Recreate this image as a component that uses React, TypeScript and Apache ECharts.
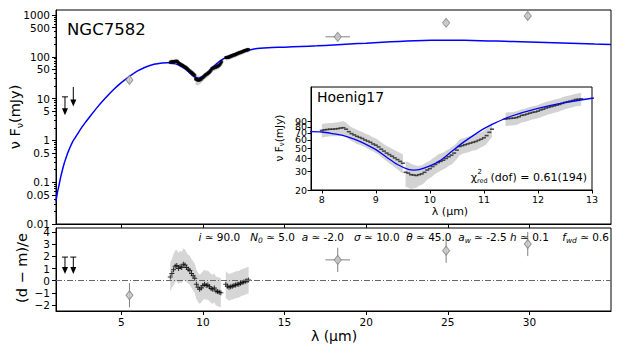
import React, { useEffect, useRef } from 'react';
import * as echarts from 'echarts';

const FONT = 'DejaVu Sans';

// ---- model SED (blue line) ----
const modelWave = [1.0, 1.1, 1.2, 1.3, 1.4, 1.5, 1.6, 1.7, 1.8, 2.0, 2.2, 2.4, 2.6, 2.8, 3.0, 3.5, 4.0, 4.5, 5.0, 5.5, 6.0, 6.5, 7.0, 7.5, 7.8, 8.0, 8.2, 8.4, 8.6, 8.8, 9.0, 9.2, 9.4, 9.6, 9.7, 9.8, 10.0, 10.2, 10.4, 10.6, 10.8, 11.0, 11.2, 11.5, 12.0, 12.5, 13.0, 13.5, 14, 15, 16, 17, 18, 19, 20, 21, 22, 23, 24, 25, 26, 27, 28, 29, 30, 31, 32, 33, 34, 35];
const modelFlux = [0.035, 0.06, 0.09, 0.14, 0.2, 0.28, 0.37, 0.48, 0.6, 0.9, 1.2, 1.6, 2.1, 2.7, 3.4, 6.0, 10, 16, 24, 34, 46, 57, 66, 71, 72, 71.5, 69, 66, 61, 55, 48.5, 41, 35, 31.5, 31, 31.3, 34, 38.5, 46.5, 56, 66, 77, 87, 101, 120, 136, 150, 160, 165, 170, 176, 183, 192, 202, 212, 223, 233, 242, 248, 250, 248, 243, 237, 231, 225, 219, 213, 207, 201, 198];

// ---- mid-IR spectrum (Hoenig17) ----
const specWave = [
  8.00, 8.05, 8.10, 8.15, 8.20, 8.25, 8.30, 8.35, 8.40, 8.45, 8.50, 8.55, 8.60, 8.65, 8.70, 8.75, 8.80, 8.85, 8.90, 8.95, 9.00, 9.05, 9.10, 9.15, 9.20, 9.25, 9.30, 9.35, 9.40, 9.45, 9.50,
  9.55, 9.60, 9.65, 9.70, 9.75, 9.80, 9.85, 9.90, 9.95, 10.00, 10.05, 10.10, 10.15, 10.20, 10.25, 10.30, 10.35, 10.40, 10.45, 10.50, 10.55, 10.60, 10.65, 10.70, 10.75, 10.80, 10.85, 10.90, 10.95, 11.00, 11.05, 11.10, 11.15,
  11.40, 11.45, 11.50, 11.55, 11.60, 11.65, 11.70, 11.75, 11.80, 11.85, 11.90, 11.95, 12.00, 12.05, 12.10, 12.15, 12.20, 12.25, 12.30, 12.35, 12.40, 12.45, 12.50, 12.55, 12.60, 12.65, 12.70, 12.75, 12.80,
];
const specFlux = [
  74, 75, 75.5, 76, 76, 76.5, 77, 78, 78.5, 76, 72, 69, 67, 65, 63.5, 62, 60, 58.5, 57, 55, 53.5, 51.5, 49, 47, 45, 43.5, 42, 40.5, 39, 37.5, 36,
  29.5, 29, 28, 27.8, 27.5, 28, 28.5, 29.5, 31, 32, 33.5, 35, 36.5, 37.5, 38.5, 40, 41.5, 43, 45, 48, 52, 53, 54, 55, 56, 57, 58, 59.5, 61, 63, 66, 71, 76,
  95, 96, 96.5, 97, 98, 100, 103, 104, 106, 108, 110, 111, 113, 116, 118, 121, 123, 125, 127, 129, 131, 134, 137, 139, 141, 143, 146, 147, 148,
];
const specErr = [
  11, 11, 11, 11, 11, 11.5, 11.5, 12, 12, 11.5, 11, 10.5, 10, 10, 9.5, 9.5, 9, 9, 9, 8.5, 8.5, 8, 8, 7.5, 7.5, 7.5, 7.5, 7.5, 7.5, 7.5, 7.5,
  8, 8, 7.5, 7, 6.5, 6, 6, 6, 6, 6, 6.5, 6.5, 7, 7, 7, 7.5, 7.5, 8, 8, 8.5, 9, 9, 9, 9.5, 9.5, 9.5, 10, 10, 10, 10.5, 11, 11.5, 12,
  14, 14, 14, 14, 14.5, 14.5, 15, 15, 15.5, 15.5, 16, 16, 16.5, 17, 17, 17.5, 17.5, 18, 18, 18.5, 18.5, 19, 19, 19.5, 19.5, 20, 20, 20.5, 20.5,
];
const specGapAfter = [9.5, 11.15];

// ---- photometry ----
const photWave = [5.5, 18.26, 24.9, 29.9];
const photWaveErr = [0, 0.75, 0, 0];
const photFlux = [28, 300, 650, 950];
const photFluxErr = [4, 40, 120, 180];
const photResid = [-1.2, 1.72, 2.48, 3.03];
const photResidErr = [1, 1, 1, 1];

// ---- upper limits ----
const ulWave = [1.55, 2.06];
const ulTop = [11, 19];
const ulBottom = [4, 6.5];
const ulCap = [1, 0];
const ulResidTop = [1.95, 1.95];
const ulResidBottom = [0.55, 0.55];

// ---- residuals of spectrum ----
const residWave = [8.0, 8.1, 8.2, 8.3, 8.4, 8.5, 8.6, 8.7, 8.8, 8.9, 9.0, 9.1, 9.2, 9.3, 9.4, 9.5, 9.6, 9.7, 9.8, 9.9, 10.0, 10.1, 10.2, 10.3, 10.4, 10.5, 10.6, 10.7, 10.8, 10.9, 11.0, 11.1, 11.4, 11.5, 11.6, 11.7, 11.8, 11.9, 12.0, 12.1, 12.2, 12.3, 12.4, 12.5, 12.6, 12.7, 12.8];
const residVal = [0.3, 0.6, 0.9, 1.2, 1.25, 1.0, 1.15, 1.1, 1.35, 1.3, 1.1, 0.95, 0.85, 0.6, 0.4, 0.2, -0.3, -0.55, -0.7, -0.6, -0.4, -0.3, -0.4, -0.35, -0.5, -0.65, -0.7, -0.6, -0.85, -0.9, -0.95, -1.0, -0.3, -0.45, -0.55, -0.5, -0.45, -0.4, -0.35, -0.3, -0.3, -0.2, -0.15, -0.1, -0.05, 0.0, 0.05];
const residErr = [1.2, 1.2, 1.3, 1.3, 1.3, 1.3, 1.3, 1.3, 1.3, 1.3, 1.2, 1.2, 1.2, 1.2, 1.2, 1.2, 1.2, 1.2, 1.2, 1.2, 1.2, 1.2, 1.2, 1.2, 1.2, 1.2, 1.2, 1.2, 1.2, 1.2, 1.2, 1.2, 1.1, 1.1, 1.1, 1.1, 1.1, 1.1, 1.1, 1.1, 1.1, 1.1, 1.1, 1.1, 1.1, 1.1, 1.1];

// ---- ticks ----
const xTicks = [5, 10, 15, 20, 25, 30];
const insetXTicks = [8, 9, 10, 11, 12, 13];
const yMainTicks = [0.01, 0.05, 0.1, 0.5, 1, 5, 10, 50, 100, 500, 1000];
const yMainMinor = [0.02, 0.03, 0.04, 0.06, 0.07, 0.08, 0.09, 0.2, 0.3, 0.4, 0.6, 0.7, 0.8, 0.9, 2, 3, 4, 6, 7, 8, 9, 20, 30, 40, 60, 70, 80, 90, 200, 300, 400, 600, 700, 800, 900];
const yResidTicks = [-2, -1, 0, 1, 2, 3, 4];
const yInsetTicks = [20, 30, 40, 50, 60, 70, 80, 90, 100];

// ---- fit parameters (text) ----
const paramNames = ['i', 'N|0', 'a', '\u03c3', '\u03b8', 'a|w', 'h', 'f|wd'];
const paramValues = ['90.0', '5.0', '-2.0', '10.0', '45.0', '-2.5', '0.1', '0.6'];
const paramGaps = ['   ', '  ', '   ', '  ', '  ', ' ', '    ', ''];

function segmentsBy(w: number[], breakAfter: number[], gap: number): [number, number][] {
  const out: [number, number][] = [];
  let s = 0;
  for (let i = 1; i < w.length; i++) {
    if (w[i] - w[i - 1] > gap || breakAfter.some((b) => Math.abs(b - w[i - 1]) < 1e-9)) {
      out.push([s, i - 1]);
      s = i;
    }
  }
  out.push([s, w.length - 1]);
  return out;
}

function bandSeries(xi: number, yi: number, w: number[], lo: number[], hi: number[], segs: [number, number][], color: string) {
  return {
    type: 'custom',
    xAxisIndex: xi,
    yAxisIndex: yi,
    z: 1,
    silent: true,
    clip: true,
    data: segs.map(([a]) => [w[a], (lo[a] + hi[a]) / 2]),
    renderItem: (params: any, api: any) => {
      const [a, b] = segs[params.dataIndex];
      const top: number[][] = [];
      const bot: number[][] = [];
      for (let k = a; k <= b; k++) {
        top.push(api.coord([w[k], hi[k]]));
        bot.unshift(api.coord([w[k], lo[k]]));
      }
      return { type: 'polygon', shape: { points: top.concat(bot) }, style: { fill: color } };
    },
  };
}

function errorBarSeries(xi: number, yi: number, data: number[][]) {
  return {
    type: 'custom',
    xAxisIndex: xi,
    yAxisIndex: yi,
    z: 3,
    silent: true,
    data,
    renderItem: (params: any, api: any) => {
      const x = api.value(0), y = api.value(1), xe = api.value(2), ylo = api.value(3), yhi = api.value(4);
      const a = api.coord([x, ylo]);
      const b = api.coord([x, yhi]);
      const children: any[] = [
        { type: 'line', shape: { x1: a[0], y1: a[1], x2: b[0], y2: b[1] }, style: { stroke: '#808080', lineWidth: 1 } },
      ];
      if (xe > 0) {
        const l = api.coord([x - xe, y]);
        const r = api.coord([x + xe, y]);
        children.push({ type: 'line', shape: { x1: l[0], y1: l[1], x2: r[0], y2: r[1] }, style: { stroke: '#808080', lineWidth: 1 } });
      }
      return { type: 'group', children };
    },
  };
}

function arrowSeries(xi: number, yi: number, data: number[][]) {
  return {
    type: 'custom',
    xAxisIndex: xi,
    yAxisIndex: yi,
    z: 4,
    silent: true,
    data,
    renderItem: (params: any, api: any) => {
      const x = api.value(0), t = api.value(1), b = api.value(2), cap = api.value(3);
      const p1 = api.coord([x, t]);
      const p2 = api.coord([x, b]);
      const children: any[] = [
        { type: 'line', shape: { x1: p1[0], y1: p1[1], x2: p2[0], y2: p2[1] - 4 }, style: { stroke: '#000', lineWidth: 1 } },
        { type: 'polygon', shape: { points: [[p2[0] - 3, p2[1] - 7], [p2[0] + 3, p2[1] - 7], [p2[0], p2[1]]] }, style: { fill: '#000' } },
      ];
      if (cap) {
        children.push({ type: 'line', shape: { x1: p1[0] - 3, y1: p1[1], x2: p1[0] + 3, y2: p1[1] }, style: { stroke: '#000', lineWidth: 1 } });
      }
      return { type: 'group', children };
    },
  };
}

const fmtNum = (v: number) => String(+Number(v).toPrecision(4));
const fmtResid = (v: number) => (v < 0 ? '\u2212' + Math.abs(v) : String(v));

const axisLineBlack = { show: true, onZero: false, lineStyle: { color: '#000', width: 1 } };

function buildOption() {
  const specLo = specFlux.map((f, i) => f - specErr[i]);
  const specHi = specFlux.map((f, i) => f + specErr[i]);
  const specSegs = segmentsBy(specWave, specGapAfter, 0.12);
  const residLo = residVal.map((v, i) => v - residErr[i]);
  const residHi = residVal.map((v, i) => v + residErr[i]);
  const residSegs = segmentsBy(residWave, [], 0.15);

  const modelData = modelWave.map((w, i) => [w, modelFlux[i]]);
  const specData = specWave.map((w, i) => [w, specFlux[i]]);
  const photData = photWave.map((w, i) => [w, photFlux[i]]);
  const photErrData = photWave.map((w, i) => [w, photFlux[i], photWaveErr[i], photFlux[i] - photFluxErr[i], photFlux[i] + photFluxErr[i]]);
  const photResidData = photWave.map((w, i) => [w, photResid[i]]);
  const photResidErrData = photWave.map((w, i) => [w, photResid[i], photWaveErr[i], photResid[i] - photResidErr[i], photResid[i] + photResidErr[i]]);
  const ulData = ulWave.map((w, i) => [w, ulTop[i], ulBottom[i], ulCap[i]]);
  const ulResidData = ulWave.map((w, i) => [w, ulResidTop[i], ulResidBottom[i], 1]);
  const residData = residWave.map((w, i) => [w, residVal[i]]);

  const tickStyle = { lineStyle: { color: '#000', width: 1 } };
  const labelBase = { color: '#000', fontFamily: FONT, hideOverlap: false };

  const paramText = paramNames
    .map((n, k) => {
      const [base, sub] = n.split('|');
      return `{i|${base}}` + (sub ? `{s|${sub}}` : '') + `{n| \u2243 ${paramValues[k]}${paramGaps[k]}}`;
    })
    .join('');
  const paramRich = {
    n: { fontSize: 10.5, fontFamily: FONT, fill: '#000', lineHeight: 14, verticalAlign: 'middle' },
    i: { fontSize: 10.5, fontFamily: FONT, fontStyle: 'italic', fill: '#000', lineHeight: 14, verticalAlign: 'middle' },
    s: { fontSize: 7.5, fontFamily: FONT, fontStyle: 'italic', fill: '#000', lineHeight: 14, verticalAlign: 'bottom' },
  };

  return {
    animation: false,
    backgroundColor: '#fff',
    textStyle: { fontFamily: FONT },
    grid: [
      { left: 56, top: 10, width: 555, height: 214, show: true, borderColor: '#000', borderWidth: 1, backgroundColor: 'transparent', outerBoundsMode: 'none', containLabel: false },
      { left: 56, top: 228, width: 555, height: 83, show: true, borderColor: '#000', borderWidth: 1, backgroundColor: 'transparent', outerBoundsMode: 'none', containLabel: false },
      { left: 311, top: 87, width: 281, height: 103, show: true, borderColor: '#000', borderWidth: 1, backgroundColor: '#fff', outerBoundsMode: 'none', containLabel: false, z: 5 },
    ],
    xAxis: [
      {
        gridIndex: 0, type: 'value', min: 1, max: 35,
        axisLine: axisLineBlack,
        axisTick: { show: true, customValues: xTicks, length: 4, inside: false, ...tickStyle },
        axisLabel: { show: false },
        splitLine: { show: false },
      },
      {
        gridIndex: 1, type: 'value', min: 1, max: 35,
        axisLine: axisLineBlack,
        axisTick: { show: true, customValues: xTicks, length: 4, ...tickStyle },
        axisLabel: { ...labelBase, show: true, customValues: xTicks, fontSize: 10.5, margin: 5 },
        splitLine: { show: false },
      },
      {
        gridIndex: 2, type: 'value', min: 7.8, max: 13,
        axisLine: axisLineBlack,
        axisTick: { show: true, customValues: insetXTicks, length: 3.5, ...tickStyle },
        axisLabel: { ...labelBase, show: true, customValues: insetXTicks, fontSize: 9.5, margin: 4 },
        splitLine: { show: false },
        z: 6,
      },
    ],
    yAxis: [
      {
        gridIndex: 0, type: 'log', logBase: 10, min: 0.01, max: 1315, position: 'left',
        axisLine: axisLineBlack,
        axisTick: { show: true, customValues: yMainTicks, length: 4, ...tickStyle },
        axisLabel: { ...labelBase, show: true, customValues: yMainTicks, fontSize: 10.5, margin: 6, formatter: fmtNum },
        splitLine: { show: false },
      },
      {
        gridIndex: 0, type: 'log', logBase: 10, min: 0.01, max: 1315, position: 'left',
        axisLine: { show: false },
        axisTick: { show: true, customValues: yMainMinor, length: 2, ...tickStyle },
        axisLabel: { show: false },
        splitLine: { show: false },
      },
      {
        gridIndex: 1, type: 'value', min: -2.5, max: 4.35, position: 'left',
        axisLine: axisLineBlack,
        axisTick: { show: true, customValues: yResidTicks, length: 4, ...tickStyle },
        axisLabel: { ...labelBase, show: true, customValues: yResidTicks, fontSize: 10.5, margin: 6, formatter: fmtResid },
        splitLine: { show: false },
      },
      {
        gridIndex: 2, type: 'log', logBase: 10, min: 20, max: 192, position: 'left',
        axisLine: axisLineBlack,
        axisTick: { show: true, customValues: yInsetTicks, length: 3.5, ...tickStyle },
        axisLabel: { ...labelBase, show: true, customValues: yInsetTicks, fontSize: 9.5, margin: 4, formatter: fmtNum },
        splitLine: { show: false },
        z: 6,
      },
    ],
    series: [
      // main panel
      bandSeries(0, 0, specWave, specLo, specHi, specSegs, '#cfcfcf'),
      {
        type: 'line', xAxisIndex: 0, yAxisIndex: 0, data: modelData, showSymbol: false, smooth: 0.3, z: 2,
        lineStyle: { color: '#0000ff', width: 1.5 }, silent: true,
      },
      {
        type: 'scatter', xAxisIndex: 0, yAxisIndex: 0, data: specData, symbol: 'rect', symbolSize: [3, 3], z: 3,
        itemStyle: { color: '#000' }, silent: true,
      },
      errorBarSeries(0, 0, photErrData),
      {
        type: 'scatter', xAxisIndex: 0, yAxisIndex: 0, data: photData, symbol: 'diamond', symbolSize: [7, 9], z: 4,
        itemStyle: { color: '#c8c8c8', borderColor: '#808080', borderWidth: 1 }, silent: true,
      },
      arrowSeries(0, 0, ulData),
      // residual panel
      bandSeries(1, 2, residWave, residLo, residHi, residSegs, '#d6d6d6'),
      {
        type: 'line', xAxisIndex: 1, yAxisIndex: 2, data: [], silent: true,
        markLine: {
          silent: true, symbol: 'none', label: { show: false },
          lineStyle: { color: '#666', width: 1, type: [6, 2, 1, 2] },
          data: [{ yAxis: 0 }],
        },
      },
      {
        type: 'scatter', xAxisIndex: 1, yAxisIndex: 2, data: residData,
        symbol: 'path://M2 0H3V2H5V3H3V5H2V3H0V2H2Z', symbolSize: 5, z: 3,
        itemStyle: { color: '#000' }, silent: true,
      },
      errorBarSeries(1, 2, photResidErrData),
      {
        type: 'scatter', xAxisIndex: 1, yAxisIndex: 2, data: photResidData, symbol: 'diamond', symbolSize: [7, 9], z: 4,
        itemStyle: { color: '#c8c8c8', borderColor: '#808080', borderWidth: 1 }, silent: true,
      },
      arrowSeries(1, 2, ulResidData),
      // inset
      { ...bandSeries(2, 3, specWave, specLo, specHi, specSegs, '#d3d3d3'), z: 6 },
      {
        type: 'line', xAxisIndex: 2, yAxisIndex: 3, data: modelData, showSymbol: false, smooth: 0.3, z: 8, clip: true,
        lineStyle: { color: '#0000ff', width: 1.3 }, silent: true,
      },
      {
        type: 'scatter', xAxisIndex: 2, yAxisIndex: 3, data: specData, symbol: 'rect', symbolSize: [4, 1.6], z: 7,
        itemStyle: { color: '#222' }, silent: true,
      },
    ],
    graphic: [
      { type: 'text', x: 67, y: 29.5, z: 10, style: { text: 'NGC7582', font: `16.5px "${FONT}"`, fill: '#000', textAlign: 'left', textVerticalAlign: 'middle' } },
      { type: 'text', x: 317, y: 96.5, z: 10, style: { text: 'Hoenig17', font: `14px "${FONT}"`, fill: '#000', textAlign: 'left', textVerticalAlign: 'middle' } },
      { type: 'text', x: 477, y: 177, z: 10, style: { text: '\u03c7', font: `11px "${FONT}"`, fill: '#000', textAlign: 'right', textVerticalAlign: 'middle' } },
      { type: 'text', x: 477.5, y: 172, z: 10, style: { text: '2', font: `7px "${FONT}"`, fill: '#000', textAlign: 'left', textVerticalAlign: 'middle' } },
      { type: 'text', x: 477, y: 180.5, z: 10, style: { text: 'red', font: `6.5px "${FONT}"`, fill: '#000', textAlign: 'left', textVerticalAlign: 'middle' } },
      { type: 'text', x: 587, y: 177, z: 10, style: { text: '(dof) = 0.61(194)', font: `11px "${FONT}"`, fill: '#000', textAlign: 'right', textVerticalAlign: 'middle' } },
      {
        type: 'text', x: 15, y: 117, rotation: Math.PI / 2, z: 10,
        style: {
          text: '{n|\u03bd F}{s|\u03bd}{n|(mJy)}', textAlign: 'center', textVerticalAlign: 'middle',
          rich: {
            n: { fontSize: 14.5, fontFamily: FONT, fill: '#000', lineHeight: 18, verticalAlign: 'middle' },
            s: { fontSize: 9.5, fontFamily: FONT, fill: '#000', lineHeight: 18, verticalAlign: 'bottom' },
          },
        },
      },
      {
        type: 'text', x: 279, y: 138, rotation: Math.PI / 2, z: 10,
        style: {
          text: '{n|\u03bd F}{s|\u03bd}{n|(mJy)}', textAlign: 'center', textVerticalAlign: 'middle',
          rich: {
            n: { fontSize: 10.5, fontFamily: FONT, fill: '#000', lineHeight: 13, verticalAlign: 'middle' },
            s: { fontSize: 7, fontFamily: FONT, fill: '#000', lineHeight: 13, verticalAlign: 'bottom' },
          },
        },
      },
      { type: 'text', x: 22, y: 268, rotation: Math.PI / 2, z: 10, style: { text: '(d \u2212 m)/e', font: `14.5px "${FONT}"`, fill: '#000', textAlign: 'center', textVerticalAlign: 'middle' } },
      { type: 'text', x: 334, y: 336, z: 10, style: { text: '\u03bb (\u03bcm)', font: `14px "${FONT}"`, fill: '#000', textAlign: 'center', textVerticalAlign: 'middle' } },
      { type: 'text', x: 450, y: 211, z: 10, style: { text: '\u03bb (\u03bcm)', font: `11px "${FONT}"`, fill: '#000', textAlign: 'center', textVerticalAlign: 'middle' } },
      {
        type: 'text', x: 609, y: 237, z: 10,
        style: { text: paramText, textAlign: 'right', textVerticalAlign: 'middle', fill: '#000', font: `10.5px "${FONT}"`, rich: paramRich },
      },
    ],
  };
}

export default function App() {
  const ref = useRef<HTMLDivElement>(null);
  useEffect(() => {
    if (!ref.current) return;
    const chart = echarts.init(ref.current, null, { renderer: 'svg' });
    chart.setOption(buildOption() as any);
    return () => chart.dispose();
  }, []);
  return <div ref={ref} style={{ position: 'absolute', left: 0, top: 0, width: 623, height: 346 }} />;
}
